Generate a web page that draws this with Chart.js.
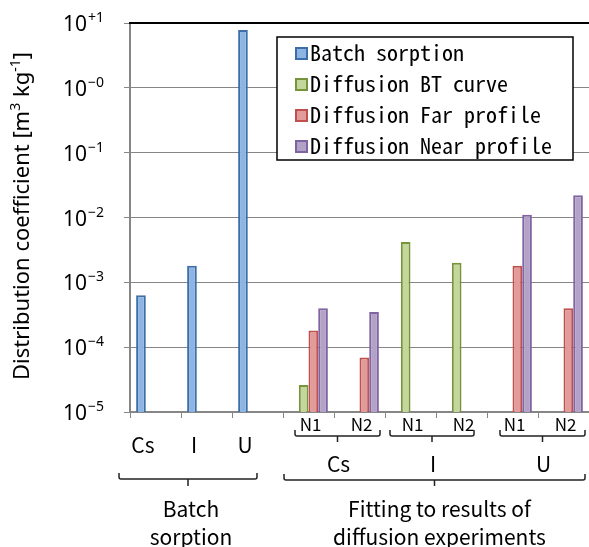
<!DOCTYPE html>
<html>
<head>
<meta charset="utf-8">
<script src="https://cdn.jsdelivr.net/npm/chart.js@4"></script>
<style>html,body{margin:0;padding:0;background:#fff}</style>
</head>
<body>
<canvas id="kd" width="589" height="547"></canvas>
<script>
// values
var categories = ['Cs', 'I', 'U', 'Cs N1', 'Cs N2', 'I N1', 'I N2', 'U N1', 'U N2'];
var batchSorption = [6.3e-4, 1.8e-3, 7.8, null, null, null, null, null, null];
var diffusionBT = [null, null, null, 2.6e-5, null, 4.2e-3, 2.0e-3, null, null];
var diffusionFar = [null, null, null, 1.8e-4, 6.9e-5, null, null, 1.8e-3, 4.0e-4];
var diffusionNear = [null, null, null, 4.0e-4, 3.5e-4, null, null, 1.1e-2, 2.2e-2];
var yTicks = [1e-5, 1e-4, 1e-3, 1e-2, 1e-1, 1, 10];
var yTickExp = ['\u22125', '\u22124', '\u22123', '\u22122', '\u22121', '\u22120', '+1'];
var subLabels = ['N1', 'N2', 'N1', 'N2', 'N1', 'N2'];
var elements = ['Cs', 'I', 'U'];

var sans = '"Noto Sans", sans-serif';
var jp = '"Noto Sans CJK JP", sans-serif';
var mono = '"Noto Sans Mono CJK JP", "Liberation Mono", monospace';

function bracket(c, x1, x2, yl, up, down, mid) {
    c.beginPath();
    c.moveTo(x1, yl - up);
    c.lineTo(x1, yl - 2);
    c.quadraticCurveTo(x1, yl, x1 + 2, yl);
    c.lineTo(x2 - 2, yl);
    c.quadraticCurveTo(x2, yl, x2, yl - 2);
    c.lineTo(x2, yl - up);
    c.moveTo(mid, yl);
    c.lineTo(mid, yl + down);
    c.stroke();
}

var labelsPlugin = {
    id: 'labels',
    afterDraw: function(chart) {
        var c = chart.ctx, x = chart.scales.x, y = chart.scales.y, a = chart.chartArea;
        var w = x.getPixelForValue(1) - x.getPixelForValue(0);
        function left(i) { return x.getPixelForValue(i) - w / 2; }
        c.save();

        // black top edge of plot area
        c.strokeStyle = '#000';
        c.lineWidth = 2;
        c.beginPath();
        c.moveTo(a.left - 1, a.top);
        c.lineTo(a.right, a.top);
        c.stroke();

        // y tick labels 10^n
        c.fillStyle = '#000';
        c.textBaseline = 'alphabetic';
        yTicks.forEach(function(v, i) {
            var py = y.getPixelForValue(v);
            c.font = '21px ' + sans;
            c.textAlign = 'right';
            c.fillText('10', 87, py + 8);
            c.font = '14px ' + sans;
            c.textAlign = 'left';
            c.fillText(yTickExp[i], 88, py - 1);
        });

        // y title with superscripts
        var parts = [['Distribution coefficient [m', 0], ['3', 1], [' kg', 0], ['-1', 1], [']', 0]];
        c.save();
        c.translate(29, 216);
        c.rotate(-Math.PI / 2);
        var total = 0;
        parts.forEach(function(p) {
            c.font = (p[1] ? '14px ' : '22px ') + sans;
            total += c.measureText(p[0]).width;
        });
        var px = -total / 2;
        c.textAlign = 'left';
        parts.forEach(function(p) {
            c.font = (p[1] ? '14px ' : '22px ') + sans;
            c.fillText(p[0], px, p[1] ? -9 : 0);
            px += c.measureText(p[0]).width;
        });
        c.restore();

        // category labels
        var meta = chart.getDatasetMeta(0);
        c.textAlign = 'center';
        c.font = '21px ' + jp;
        elements.forEach(function(e, i) {
            c.fillText(e, meta.data[i].x + 2, 453);
        });
        c.font = '17px ' + jp;
        subLabels.forEach(function(s, i) {
            c.fillText(s, x.getPixelForValue(i + 3) + 2, 431);
        });

        // brackets
        c.strokeStyle = '#222';
        c.lineWidth = 1.5;
        var subs = [[left(3) + 12, left(5) - 5], [left(5) + 5, left(7) - 13], [left(7) + 13, left(9) - 4]];
        subs.forEach(function(s, i) {
            var mid = (s[0] + s[1]) / 2;
            bracket(c, s[0], s[1], 436, 6, 6, mid);
            c.font = '21px ' + jp;
            c.fillText(elements[i], mid + 1, 472);
        });
        var bx1 = left(0) - 11, bx2 = left(2) + 25;
        bracket(c, bx1, bx2, 479, 6, 7, (bx1 + bx2) / 2);
        var fx1 = left(3) + 1, fx2 = left(9) - 4;
        bracket(c, fx1, fx2, 480, 6, 6, (fx1 + fx2) / 2);

        c.font = '21px ' + jp;
        c.fillText('Batch', (bx1 + bx2) / 2 + 3, 517);
        c.fillText('sorption', (bx1 + bx2) / 2 + 3, 545);
        c.fillText('Fitting to results of', (fx1 + fx2) / 2 + 5, 517);
        c.fillText('diffusion experiments', (fx1 + fx2) / 2 + 5, 545);

        // legend inside plot
        var lx = 277, ly = 37, lw = 296, lh = 123;
        c.fillStyle = '#fff';
        c.fillRect(lx, ly, lw, lh);
        c.strokeStyle = '#000';
        c.lineWidth = 1.5;
        c.strokeRect(lx, ly, lw, lh);
        c.font = '22px ' + mono;
        c.textAlign = 'left';
        chart.data.datasets.forEach(function(ds, i) {
            var ry = 53 + i * 31;
            c.fillStyle = ds.backgroundColor;
            c.fillRect(296, ry - 5, 11, 11);
            c.strokeStyle = ds.borderColor;
            c.lineWidth = 2;
            c.strokeRect(296, ry - 5, 11, 11);
            c.fillStyle = '#000';
            c.fillText(ds.label, 310, ry + 8);
        });
        c.restore();
    }
};

new Chart(document.getElementById('kd'), {
    type: 'bar',
    data: {
        labels: categories,
        datasets: [
            { label: 'Batch sorption', data: batchSorption, backgroundColor: '#8DB4E2', borderColor: '#3E6EA8' },
            { label: 'Diffusion BT curve', data: diffusionBT, backgroundColor: '#C3D69B', borderColor: '#77933C' },
            { label: 'Diffusion Far profile', data: diffusionFar, backgroundColor: '#E19B9A', borderColor: '#C0504D' },
            { label: 'Diffusion Near profile', data: diffusionNear, backgroundColor: '#B3A2C7', borderColor: '#8064A2' }
        ]
    },
    options: {
        responsive: false,
        animation: false,
        layout: { padding: { top: 23, left: 0, right: 0, bottom: 0 } },
        datasets: {
            bar: { categoryPercentage: 0.76, barPercentage: 1, borderWidth: 2, borderSkipped: 'start' }
        },
        plugins: {
            legend: { display: false },
            tooltip: { enabled: false }
        },
        scales: {
            x: {
                afterFit: function(s) { s.height = 135; },
                ticks: { display: false },
                grid: { offset: true, drawOnChartArea: false, tickLength: 6, color: '#868686' },
                border: { color: '#868686', width: 2 }
            },
            y: {
                type: 'logarithmic',
                min: 1e-5,
                max: 10,
                afterFit: function(s) { s.width = 130; },
                afterBuildTicks: function(s) {
                    s.ticks = yTicks.map(function(v) { return { value: v }; });
                },
                ticks: { display: false },
                grid: { color: '#868686', tickLength: 6, lineWidth: 1 },
                border: { color: '#868686', width: 2 }
            }
        }
    },
    plugins: [labelsPlugin]
});
</script>
</body>
</html>
